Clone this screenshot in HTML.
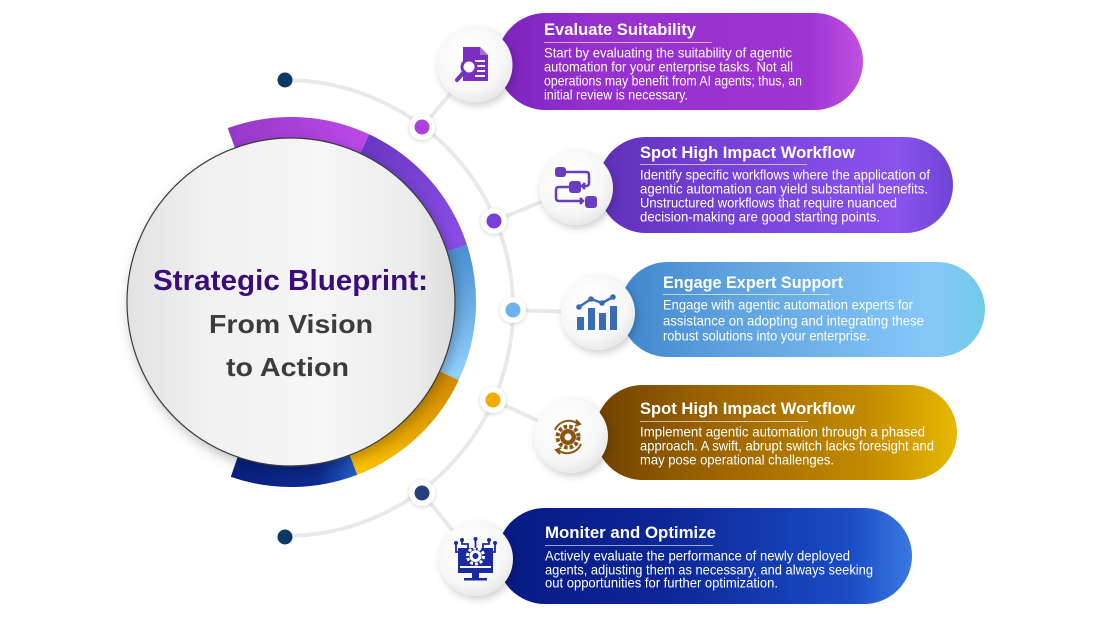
<!DOCTYPE html>
<html><head><meta charset="utf-8"><style>
html,body{margin:0;padding:0;background:#fff;}
svg{display:block;}
text{font-family:"Liberation Sans",sans-serif;}
</style></head><body>
<svg width="1110" height="624" viewBox="0 0 1110 624" xmlns="http://www.w3.org/2000/svg">
<defs>
<filter id="sh" x="-30%" y="-30%" width="160%" height="160%"><feDropShadow dx="2" dy="3" stdDeviation="4" flood-color="#000" flood-opacity="0.2"/></filter>
<filter id="sh2" x="-50%" y="-50%" width="200%" height="200%"><feDropShadow dx="0" dy="1" stdDeviation="2" flood-color="#000" flood-opacity="0.18"/></filter>
<filter id="shb" x="-20%" y="-20%" width="140%" height="140%"><feDropShadow dx="3" dy="5" stdDeviation="6" flood-color="#000" flood-opacity="0.25"/></filter>
<linearGradient id="mc" x1="0" y1="0" x2="1" y2="0">
<stop offset="0" stop-color="#e2e2e2"/><stop offset="0.25" stop-color="#f1f1f1"/><stop offset="0.6" stop-color="#f6f6f6"/><stop offset="0.88" stop-color="#ebebeb"/><stop offset="1" stop-color="#dcdcdc"/>
</linearGradient>
<radialGradient id="ic" cx="0.4" cy="0.35" r="0.7">
<stop offset="0" stop-color="#ffffff"/><stop offset="0.7" stop-color="#f7f7f7"/><stop offset="1" stop-color="#e6e6e6"/>
</radialGradient>
<linearGradient id="p1" x1="497" y1="0" x2="863" y2="0" gradientUnits="userSpaceOnUse">
<stop offset="0" stop-color="#7a22bc"/><stop offset="0.25" stop-color="#9530cf"/><stop offset="0.85" stop-color="#9e34d2"/><stop offset="1" stop-color="#c052e0"/>
</linearGradient>
<linearGradient id="p2" x1="598" y1="0" x2="953" y2="0" gradientUnits="userSpaceOnUse">
<stop offset="0" stop-color="#5f2fb8"/><stop offset="0.3" stop-color="#7240d4"/><stop offset="0.85" stop-color="#8a52ee"/><stop offset="1" stop-color="#6e44d2"/>
</linearGradient>
<linearGradient id="p3" x1="620" y1="0" x2="985" y2="0" gradientUnits="userSpaceOnUse">
<stop offset="0" stop-color="#3f86cc"/><stop offset="0.3" stop-color="#5ea2de"/><stop offset="0.85" stop-color="#86c8f8"/><stop offset="1" stop-color="#72cbe6"/>
</linearGradient>
<linearGradient id="p4" x1="595" y1="0" x2="957" y2="0" gradientUnits="userSpaceOnUse">
<stop offset="0" stop-color="#6e4200"/><stop offset="0.3" stop-color="#9a6200"/><stop offset="0.75" stop-color="#c28a00"/><stop offset="1" stop-color="#e6b800"/>
</linearGradient>
<linearGradient id="p5" x1="497" y1="0" x2="912" y2="0" gradientUnits="userSpaceOnUse">
<stop offset="0" stop-color="#071a84"/><stop offset="0.4" stop-color="#0c2596"/><stop offset="0.85" stop-color="#1a4cc4"/><stop offset="1" stop-color="#3a7ae0"/>
</linearGradient>
<linearGradient id="rA" x1="231" y1="0" x2="365" y2="0" gradientUnits="userSpaceOnUse"><stop offset="0" stop-color="#9639c8"/><stop offset="1" stop-color="#bb48e8"/></linearGradient>
<linearGradient id="rB" x1="365" y1="144" x2="457" y2="248" gradientUnits="userSpaceOnUse"><stop offset="0" stop-color="#6a38c4"/><stop offset="1" stop-color="#8a4ee8"/></linearGradient>
<linearGradient id="rC" x1="0" y1="248" x2="0" y2="376" gradientUnits="userSpaceOnUse"><stop offset="0" stop-color="#4a8fd0"/><stop offset="1" stop-color="#92d2ff"/></linearGradient>
<linearGradient id="rD" x1="449" y1="376" x2="353" y2="465" gradientUnits="userSpaceOnUse"><stop offset="0" stop-color="#d48c00"/><stop offset="1" stop-color="#ffc200"/></linearGradient>
<linearGradient id="rE" x1="234" y1="0" x2="354" y2="0" gradientUnits="userSpaceOnUse"><stop offset="0" stop-color="#08207e"/><stop offset="0.7" stop-color="#0c2a90"/><stop offset="1" stop-color="#2458c4"/></linearGradient>
</defs>

<path d="M285,80 A228,228 0 0 1 285,536" fill="none" stroke="#e9e9ec" stroke-width="4"/>
<g stroke="#e9e9ec" stroke-width="4" stroke-linecap="round">
<line x1="422" y1="127" x2="475" y2="65"/>
<line x1="494" y1="221" x2="576" y2="188"/>
<line x1="513" y1="310" x2="598" y2="313"/>
<line x1="493" y1="400" x2="571" y2="436"/>
<line x1="422" y1="493" x2="476" y2="559"/>
</g>

<g fill="none" stroke-width="21">
<path d="M231.3,138 A174.5,174.5 0 0 1 364.7,143.8" stroke="url(#rA)"/>
<path d="M364.7,143.8 A174.5,174.5 0 0 1 457,248.1" stroke="url(#rB)"/>
<path d="M457,248.1 A174.5,174.5 0 0 1 449.2,375.7" stroke="url(#rC)"/>
<path d="M449.2,375.7 A174.5,174.5 0 0 1 353.5,464.9" stroke="url(#rD)"/>
<path d="M353.5,464.9 A174.5,174.5 0 0 1 234.2,467" stroke="url(#rE)"/>
</g>
<circle cx="291" cy="302" r="164" fill="url(#mc)" stroke="#3a3a3a" stroke-width="1.2" filter="url(#shb)"/>
<text x="153" y="290" font-size="29" font-weight="bold" fill="#3b0d78" textLength="275" lengthAdjust="spacingAndGlyphs">Strategic Blueprint:</text>
<text x="209" y="333" font-size="26" font-weight="bold" fill="#3c3c3c" textLength="164" lengthAdjust="spacingAndGlyphs">From Vision</text>
<text x="226" y="376" font-size="26" font-weight="bold" fill="#3c3c3c" textLength="123" lengthAdjust="spacingAndGlyphs">to Action</text>

<circle cx="285" cy="80" r="7.5" fill="#0f3766"/>
<circle cx="285" cy="537" r="7.5" fill="#0f3766"/>

<g filter="url(#sh2)">
<circle cx="422" cy="127" r="13" fill="#fff"/>
<circle cx="494" cy="221" r="13" fill="#fff"/>
<circle cx="513" cy="310" r="13" fill="#fff"/>
<circle cx="493" cy="400" r="13" fill="#fff"/>
<circle cx="422" cy="493" r="13" fill="#fff"/>
</g>
<circle cx="422" cy="127" r="7.5" fill="#b040dc"/>
<circle cx="494" cy="221" r="7.5" fill="#7a3fd6"/>
<circle cx="513" cy="310" r="7.5" fill="#6cb2ee"/>
<circle cx="493" cy="400" r="7.5" fill="#f0ac00"/>
<circle cx="422" cy="493" r="7.5" fill="#273f7c"/>

<rect x="497" y="13" width="366" height="97" rx="48.5" fill="url(#p1)"/>
<rect x="598" y="137" width="355" height="96" rx="48" fill="url(#p2)"/>
<rect x="620" y="262" width="365" height="95" rx="47.5" fill="url(#p3)"/>
<rect x="595" y="385" width="362" height="95" rx="47.5" fill="url(#p4)"/>
<rect x="497" y="508" width="415" height="96" rx="48" fill="url(#p5)"/>

<g filter="url(#sh)">
<circle cx="475" cy="65" r="37.5" fill="url(#ic)"/>
<circle cx="576" cy="188" r="37" fill="url(#ic)"/>
<circle cx="598" cy="313" r="37" fill="url(#ic)"/>
<circle cx="571" cy="436" r="37" fill="url(#ic)"/>
<circle cx="476" cy="559" r="37" fill="url(#ic)"/>
</g>

<g>
<path d="M463,47 h17 l8,8 v26 h-25 z" fill="#7b2fc2"/>
<path d="M480,47 v8 h8" fill="#a66ad8"/>
<g fill="#fff"><rect x="475" y="60" width="10" height="2"/><rect x="477" y="65" width="8" height="2"/><rect x="477" y="70" width="8" height="2"/><rect x="475" y="75" width="10" height="2"/></g>
<circle cx="469" cy="67" r="7" fill="#fff" stroke="#7b2fc2" stroke-width="3"/>
<line x1="464" y1="72" x2="457" y2="80" stroke="#7b2fc2" stroke-width="4" stroke-linecap="round"/>
</g>

<g fill="#6a3cc0" stroke="#6a3cc0">
<rect x="555" y="167" width="11" height="10" rx="3" stroke="none"/>
<rect x="569" y="181" width="12" height="12" rx="3" stroke="none"/>
<rect x="585" y="196" width="12" height="12" rx="3" stroke="none"/>
<path d="M566,172 h20 q3,0 3,3 v8 q0,3 -3,3 h-3" fill="none" stroke-width="2.5"/>
<path d="M585,183 l-3,3 l3,3" fill="none" stroke-width="2.5"/>
<path d="M569,187 h-10 q-3,0 -3,3 v8 q0,3 3,3 h22" fill="none" stroke-width="2.5"/>
<path d="M580,198 l3,3 l-3,3" fill="none" stroke-width="2.5"/>
</g>

<g fill="#3a6cb5">
<rect x="577" y="317" width="7" height="13"/>
<rect x="588" y="308" width="7" height="22"/>
<rect x="599" y="313" width="7" height="17"/>
<rect x="610" y="306" width="7" height="24"/>
<polyline points="579,307 591,299 602,303 613,297" fill="none" stroke="#3a6cb5" stroke-width="2.5"/>
<circle cx="579" cy="307" r="2.8"/><circle cx="591" cy="299" r="2.8"/><circle cx="602" cy="303" r="2.8"/><circle cx="613" cy="297" r="2.8"/>
</g>

<g>
<circle cx="568" cy="437" r="10.5" fill="none" stroke="#8a5510" stroke-width="4" stroke-dasharray="3.5 2.1"/>
<circle cx="568" cy="437" r="8" fill="#8a5510"/>
<circle cx="568" cy="437" r="3.5" fill="#fff"/>
<path d="M555,430 A15,15 0 0 1 578,424" fill="none" stroke="#8a5510" stroke-width="2"/>
<path d="M576,420 l4,4 l-5,2" fill="none" stroke="#8a5510" stroke-width="2"/>
<path d="M581,444 A15,15 0 0 1 558,450" fill="none" stroke="#8a5510" stroke-width="2"/>
<path d="M560,454 l-4,-4 l5,-2" fill="none" stroke="#8a5510" stroke-width="2"/>
</g>

<g>
<rect x="458" y="548" width="35" height="25" fill="#1a2aa0"/>
<rect x="472" y="573" width="7" height="5" fill="#1a2aa0"/>
<rect x="464" y="578" width="23" height="2.5" fill="#1a2aa0"/>
<rect x="460" y="566" width="31" height="2" fill="#fff"/>
<circle cx="475.5" cy="556" r="8" fill="none" stroke="#fff" stroke-width="3" stroke-dasharray="3 2"/>
<circle cx="475.5" cy="556" r="6" fill="#fff"/>
<circle cx="475.5" cy="556" r="3" fill="#1a2aa0"/>
<g stroke="#1a2aa0" stroke-width="1.8" fill="none">
<path d="M475.5,548 v-8"/><path d="M468,548 v-4 h-6 v-3"/><path d="M483,548 v-4 h6 v-3"/><path d="M458,552 h-2 v-8"/><path d="M493,552 h2 v-8"/>
</g>
<g fill="#1a2aa0"><circle cx="475.5" cy="539" r="2"/><circle cx="462" cy="540" r="2"/><circle cx="489" cy="540" r="2"/><circle cx="456" cy="543" r="2"/><circle cx="495" cy="543" r="2"/></g>
</g>

<g fill="#fff">
<text x="544" y="35" font-size="17" font-weight="bold" textLength="152" lengthAdjust="spacingAndGlyphs">Evaluate Suitability</text>
<line x1="544" y1="42.5" x2="712" y2="42.5" stroke="rgba(255,255,255,0.6)" stroke-width="1"/>
<text x="544" y="57.5" font-size="13.6" textLength="248" lengthAdjust="spacingAndGlyphs">Start by evaluating the suitability of agentic</text>
<text x="544" y="71.5" font-size="13.6" textLength="249" lengthAdjust="spacingAndGlyphs">automation for your enterprise tasks. Not all</text>
<text x="544" y="85.5" font-size="13.6" textLength="258" lengthAdjust="spacingAndGlyphs">operations may benefit from AI agents; thus, an</text>
<text x="544" y="99.5" font-size="13.6" textLength="144" lengthAdjust="spacingAndGlyphs">initial review is necessary.</text>

<text x="640" y="158" font-size="17" font-weight="bold" textLength="215" lengthAdjust="spacingAndGlyphs">Spot High Impact Workflow</text>
<line x1="640" y1="164.5" x2="807" y2="164.5" stroke="rgba(255,255,255,0.6)" stroke-width="1"/>
<text x="640" y="179.5" font-size="13.6" textLength="290" lengthAdjust="spacingAndGlyphs">Identify specific workflows where the application of</text>
<text x="640" y="193.5" font-size="13.6" textLength="288" lengthAdjust="spacingAndGlyphs">agentic automation can yield substantial benefits.</text>
<text x="640" y="207.5" font-size="13.6" textLength="257" lengthAdjust="spacingAndGlyphs">Unstructured workflows that require nuanced</text>
<text x="640" y="221.5" font-size="13.6" textLength="240" lengthAdjust="spacingAndGlyphs">decision-making are good starting points.</text>

<text x="663" y="288" font-size="17" font-weight="bold" textLength="180" lengthAdjust="spacingAndGlyphs">Engage Expert Support</text>
<line x1="663" y1="294.5" x2="830" y2="294.5" stroke="rgba(255,255,255,0.6)" stroke-width="1"/>
<text x="663" y="309.5" font-size="13.6" textLength="250" lengthAdjust="spacingAndGlyphs">Engage with agentic automation experts for</text>
<text x="663" y="325.5" font-size="13.6" textLength="261" lengthAdjust="spacingAndGlyphs">assistance on adopting and integrating these</text>
<text x="663" y="340.5" font-size="13.6" textLength="207" lengthAdjust="spacingAndGlyphs">robust solutions into your enterprise.</text>

<text x="640" y="414" font-size="17" font-weight="bold" textLength="215" lengthAdjust="spacingAndGlyphs">Spot High Impact Workflow</text>
<line x1="640" y1="421.5" x2="808" y2="421.5" stroke="rgba(255,255,255,0.6)" stroke-width="1"/>
<text x="640" y="436.5" font-size="13.6" textLength="285" lengthAdjust="spacingAndGlyphs">Implement agentic automation through a phased</text>
<text x="640" y="450.5" font-size="13.6" textLength="294" lengthAdjust="spacingAndGlyphs">approach. A swift, abrupt switch lacks foresight and</text>
<text x="640" y="464.5" font-size="13.6" textLength="194" lengthAdjust="spacingAndGlyphs">may pose operational challenges.</text>

<text x="545" y="538" font-size="17" font-weight="bold" textLength="171" lengthAdjust="spacingAndGlyphs">Moniter and Optimize</text>
<line x1="545" y1="545.5" x2="713" y2="545.5" stroke="rgba(255,255,255,0.6)" stroke-width="1"/>
<text x="545" y="560.5" font-size="13.6" textLength="305" lengthAdjust="spacingAndGlyphs">Actively evaluate the performance of newly deployed</text>
<text x="545" y="574.5" font-size="13.6" textLength="328" lengthAdjust="spacingAndGlyphs">agents, adjusting them as necessary, and always seeking</text>
<text x="545" y="587.5" font-size="13.6" textLength="233" lengthAdjust="spacingAndGlyphs">out opportunities for further optimization.</text>
</g>
</svg>
</body></html>
